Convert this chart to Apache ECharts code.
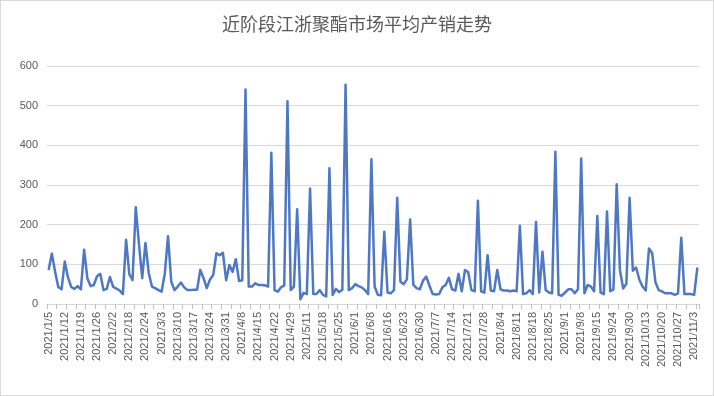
<!DOCTYPE html>
<html>
<head>
<meta charset="utf-8">
<script src="https://cdn.jsdelivr.net/npm/echarts@6/dist/echarts.min.js"></script>
<style>
html,body{margin:0;padding:0;background:#fff;}
#wrap{width:714px;height:396px;box-sizing:border-box;border:1px solid #d9d9d9;position:relative;}
#chart{position:absolute;left:-1px;top:-1px;width:714px;height:396px;}
</style>
</head>
<body>
<div id="wrap"><div id="chart"></div></div>
<script>
const chartTitle = '近阶段江浙聚酯市场平均产销走势';
const yTicks = [0, 100, 200, 300, 400, 500, 600];

const datesQ1 = ['2021/1/5','2021/1/6','2021/1/7','2021/1/8','2021/1/11','2021/1/12','2021/1/13','2021/1/14','2021/1/15','2021/1/18','2021/1/19','2021/1/20','2021/1/21','2021/1/22','2021/1/25','2021/1/26','2021/1/27','2021/1/28','2021/1/29','2021/2/1','2021/2/2','2021/2/3','2021/2/4','2021/2/5','2021/2/8','2021/2/18','2021/2/19','2021/2/20','2021/2/22','2021/2/23','2021/2/24','2021/2/25','2021/2/26','2021/3/1','2021/3/2','2021/3/3','2021/3/4','2021/3/5','2021/3/8','2021/3/9','2021/3/10','2021/3/11','2021/3/12','2021/3/15','2021/3/16','2021/3/17','2021/3/18','2021/3/19','2021/3/22','2021/3/23','2021/3/24','2021/3/25','2021/3/26','2021/3/29','2021/3/30','2021/3/31'];
const datesQ2 = ['2021/4/1','2021/4/2','2021/4/6','2021/4/7','2021/4/8','2021/4/9','2021/4/12','2021/4/13','2021/4/14','2021/4/15','2021/4/16','2021/4/19','2021/4/20','2021/4/21','2021/4/22','2021/4/23','2021/4/26','2021/4/27','2021/4/28','2021/4/29','2021/4/30','2021/5/6','2021/5/7','2021/5/10','2021/5/11','2021/5/12','2021/5/13','2021/5/14','2021/5/17','2021/5/18','2021/5/19','2021/5/20','2021/5/21','2021/5/24','2021/5/25','2021/5/26','2021/5/27','2021/5/28','2021/5/31','2021/6/1','2021/6/2','2021/6/3','2021/6/4','2021/6/7','2021/6/8','2021/6/9','2021/6/10','2021/6/11','2021/6/15','2021/6/16','2021/6/17','2021/6/18','2021/6/21','2021/6/22','2021/6/23','2021/6/24','2021/6/25','2021/6/28','2021/6/29','2021/6/30'];
const datesQ3 = ['2021/7/1','2021/7/2','2021/7/5','2021/7/6','2021/7/7','2021/7/8','2021/7/9','2021/7/12','2021/7/13','2021/7/14','2021/7/15','2021/7/16','2021/7/19','2021/7/20','2021/7/21','2021/7/22','2021/7/23','2021/7/26','2021/7/27','2021/7/28','2021/7/29','2021/7/30','2021/8/2','2021/8/3','2021/8/4','2021/8/5','2021/8/6','2021/8/9','2021/8/10','2021/8/11','2021/8/12','2021/8/13','2021/8/16','2021/8/17','2021/8/18','2021/8/19','2021/8/20','2021/8/23','2021/8/24','2021/8/25','2021/8/26','2021/8/27','2021/8/30','2021/8/31','2021/9/1','2021/9/2','2021/9/3','2021/9/6','2021/9/7','2021/9/8','2021/9/9','2021/9/10','2021/9/13','2021/9/14','2021/9/15','2021/9/16','2021/9/17','2021/9/22','2021/9/23','2021/9/24','2021/9/26','2021/9/27','2021/9/28','2021/9/29','2021/9/30'];
const datesQ4 = ['2021/10/8','2021/10/9','2021/10/11','2021/10/12','2021/10/13','2021/10/14','2021/10/15','2021/10/18','2021/10/19','2021/10/20','2021/10/21','2021/10/22','2021/10/25','2021/10/26','2021/10/27','2021/10/28','2021/10/29','2021/11/1','2021/11/2','2021/11/3','2021/11/4'];

const valuesQ1 = [86,127,82,43,37,107,67,43,38,45,37,137,65,45,48,70,76,35,38,68,43,39,34,25,162,75,60,244,150,65,154,79,44,40,35,31,77,171,56,35,44,54,42,35,35,36,36,86,65,40,62,73,128,123,129,60];
const valuesQ2 = [98,81,113,58,60,541,44,44,52,48,48,47,44,381,35,31,42,47,511,35,44,239,12,28,25,291,25,25,35,23,19,342,23,38,30,36,553,35,40,50,45,42,35,25,365,44,23,22,182,29,27,35,268,56,50,62,213,48,40,37];
const valuesQ3 = [59,69,46,25,24,25,42,48,66,37,34,76,32,86,80,35,32,260,32,29,123,34,32,86,37,34,34,32,34,32,197,25,27,35,25,207,29,132,35,29,27,384,23,21,29,37,37,27,37,367,27,48,44,32,222,29,25,233,32,37,302,86,39,51,268];
const valuesQ4 = [84,92,62,44,34,140,128,55,35,32,27,27,27,23,27,167,25,25,25,23,92];

const categories = datesQ1.concat(datesQ2, datesQ3, datesQ4);
const values = valuesQ1.concat(valuesQ2, valuesQ3, valuesQ4);

const chart = echarts.init(document.getElementById('chart'), null, {renderer: 'canvas'});
chart.setOption({
  animation: false,
  backgroundColor: 'transparent',
  title: {
    text: chartTitle,
    left: 'center',
    top: 10,
    textStyle: {
      fontFamily: '"Noto Sans CJK SC", sans-serif',
      fontSize: 18,
      fontWeight: 'normal',
      color: '#595959'
    }
  },
  grid: {left: 47, right: 15, top: 66, bottom: 92, containLabel: false},
  xAxis: {
    type: 'category',
    data: categories,
    boundaryGap: true,
    axisLine: {show: true, lineStyle: {color: '#d9d9d9', width: 1}},
    axisTick: {show: true, interval: 2, length: 5, lineStyle: {color: '#bfbfbf'}},
    axisLabel: {
      interval: 4,
      rotate: 90,
      margin: 8,
      fontSize: 11,
      fontFamily: '"Liberation Sans", Arial, sans-serif',
      color: '#595959'
    },
    splitLine: {show: false}
  },
  yAxis: {
    type: 'value',
    min: yTicks[0],
    max: yTicks[yTicks.length - 1],
    interval: 100,
    axisLine: {show: false},
    axisTick: {show: false},
    axisLabel: {
      margin: 9,
      fontSize: 11,
      fontFamily: '"Liberation Sans", Arial, sans-serif',
      color: '#595959'
    },
    splitLine: {show: true, lineStyle: {color: '#d9d9d9', width: 1}}
  },
  series: [{
    type: 'line',
    data: values,
    symbol: 'none',
    smooth: false,
    lineStyle: {color: '#4f78c4', width: 2.5, join: 'round'},
    itemStyle: {color: '#4f78c4'}
  }]
});
</script>
</body>
</html>
